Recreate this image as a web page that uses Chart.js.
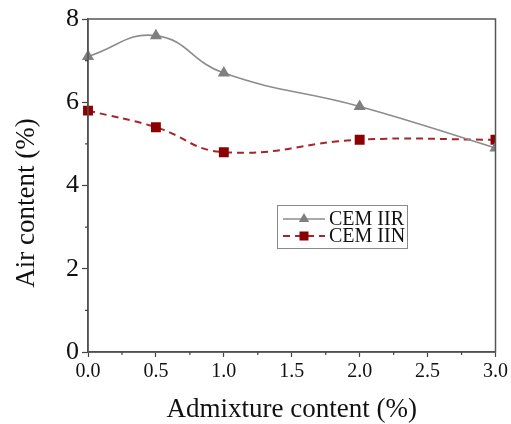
<!DOCTYPE html>
<html>
<head>
<meta charset="utf-8">
<script src="https://cdn.jsdelivr.net/npm/chart.js@4.4.1/dist/chart.umd.min.js"></script>
<style>
  html, body { margin: 0; padding: 0; background: #fff; }
  #wrap { width: 511px; height: 424px; }
</style>
</head>
<body>
<div id="wrap"><canvas id="c" width="511" height="424"></canvas></div>
<script>
// Admixture dosage (%) on the x axis
const admixture = [0.0, 0.5, 1.0, 2.0, 3.0];
// Air content (%) for each cement type
const cemIIR = [7.1, 7.6, 6.7, 5.9, 4.9];
const cemIIN = [5.8, 5.4, 4.8, 5.1, 5.1];
const seriesNames = ['CEM IIR', 'CEM IIN'];
// Axis tick values
const xMajorTicks = [0.0, 0.5, 1.0, 1.5, 2.0, 2.5, 3.0];
const xMinorTicks = [0.25, 0.75, 1.25, 1.75, 2.25, 2.75];
const yMajorTicks = [0, 2, 4, 6, 8];
const yMinorTicks = [1, 3, 5, 7];
const xTitle = 'Admixture content (%)';
const yTitle = 'Air content (%)';

const SERIF = '"Liberation Serif", "DejaVu Serif", serif';

const toPoints = (xs, ys) => xs.map((x, i) => ({ x: x, y: ys[i] }));

// Frame, minor ticks, y title and legend box
const decor = {
  id: 'decor',
  afterDraw(chart) {
    const { ctx, chartArea: a, scales } = chart;
    ctx.save();
    // full frame around the plot
    ctx.strokeStyle = '#555';
    ctx.lineWidth = 1.5;
    ctx.strokeRect(a.left, a.top, a.right - a.left, a.bottom - a.top);
    // minor ticks
    ctx.strokeStyle = '#444';
    ctx.lineWidth = 1.2;
    ctx.beginPath();
    xMinorTicks.forEach(v => {
      const px = scales.x.getPixelForValue(v);
      ctx.moveTo(px, a.bottom); ctx.lineTo(px, a.bottom + 3);
    });
    yMinorTicks.forEach(v => {
      const py = scales.y.getPixelForValue(v);
      ctx.moveTo(a.left, py); ctx.lineTo(a.left - 3, py);
    });
    ctx.stroke();

    // y axis title
    ctx.fillStyle = '#111';
    ctx.font = '27px ' + SERIF;
    ctx.textAlign = 'center';
    ctx.textBaseline = 'middle';
    ctx.translate(27, 203);
    ctx.rotate(-Math.PI / 2);
    ctx.fillText(yTitle, 0, 0);
    ctx.setTransform(1, 0, 0, 1, 0, 0);

    // legend inside the plot
    const bx = 277, by = 205, bw = 130, bh = 43;
    ctx.strokeStyle = '#8a8a8a';
    ctx.lineWidth = 1;
    ctx.strokeRect(bx + 0.5, by + 0.5, bw, bh);
    const rows = [by + 14, by + 31];
    chart.data.datasets.forEach((ds, i) => {
      const y = rows[i];
      const x0 = 283, x1 = 325, xm = (x0 + x1) / 2;
      ctx.strokeStyle = ds.borderColor;
      ctx.lineWidth = ds.borderWidth;
      ctx.setLineDash(ds.borderDash || []);
      ctx.beginPath();
      ctx.moveTo(x0, y); ctx.lineTo(x1, y);
      ctx.stroke();
      ctx.setLineDash([]);
      ctx.fillStyle = ds.pointBackgroundColor;
      if (ds.pointStyle === 'triangle') {
        const r = 6;
        ctx.beginPath();
        ctx.moveTo(xm, y - r);
        ctx.lineTo(xm + r * 0.866, y + r * 0.5);
        ctx.lineTo(xm - r * 0.866, y + r * 0.5);
        ctx.closePath();
        ctx.fill();
      } else {
        ctx.fillRect(xm - 4.5, y - 4.5, 9, 9);
      }
      ctx.fillStyle = '#111';
      ctx.font = '20px ' + SERIF;
      ctx.textAlign = 'left';
      ctx.textBaseline = 'middle';
      ctx.fillText(ds.label, 329, y + 1);
    });
    ctx.restore();
  }
};

new Chart(document.getElementById('c'), {
  type: 'line',
  data: {
    datasets: [
      {
        label: seriesNames[0],
        data: toPoints(admixture, cemIIR),
        borderColor: '#8c8c8c',
        borderWidth: 1.6,
        pointStyle: 'triangle',
        pointRadius: 7,
        pointBackgroundColor: '#7f7f7f',
        pointBorderColor: '#7f7f7f',
        pointBorderWidth: 0,
        tension: 0.45,
        clip: { left: 12, top: 12, right: 0, bottom: 12 }
      },
      {
        label: seriesNames[1],
        data: toPoints(admixture, cemIIN),
        borderColor: '#a3262a',
        borderWidth: 2,
        borderDash: [7, 5],
        pointStyle: 'rect',
        pointRadius: 7,
        pointBackgroundColor: '#8b0000',
        pointBorderColor: '#8b0000',
        pointBorderWidth: 0,
        tension: 0.45,
        clip: { left: 12, top: 12, right: 0, bottom: 12 }
      }
    ]
  },
  options: {
    responsive: false,
    animation: false,
    layout: { padding: { top: 19, right: 14, left: 0, bottom: 0 } },
    plugins: { legend: { display: false }, tooltip: { enabled: false } },
    scales: {
      x: {
        type: 'linear',
        min: 0,
        max: 3,
        afterBuildTicks(scale) { scale.ticks = xMajorTicks.map(v => ({ value: v })); },
        afterFit(scale) { scale.height = 72; },
        ticks: {
          color: '#111',
          font: { family: SERIF, size: 20 },
          padding: 3,
          maxRotation: 0,
          callback: v => Number(v).toFixed(1)
        },
        grid: { drawOnChartArea: false, tickLength: 5, tickColor: '#444', tickWidth: 1.2 },
        border: { display: true, color: '#444', width: 1.5 },
        title: {
          display: true,
          text: xTitle,
          color: '#111',
          font: { family: SERIF, size: 27, lineHeight: 1.05 },
          padding: { top: 0, bottom: 0 }
        }
      },
      y: {
        type: 'linear',
        min: 0,
        max: 8,
        afterBuildTicks(scale) { scale.ticks = yMajorTicks.map(v => ({ value: v })); },
        afterFit(scale) { scale.width = 88; },
        ticks: {
          color: '#111',
          font: { family: SERIF, size: 26 },
          padding: 3,
          callback: v => String(v)
        },
        grid: { drawOnChartArea: false, tickLength: 6, tickColor: '#444', tickWidth: 1.2 },
        border: { display: true, color: '#444', width: 1.5 }
      }
    }
  },
  plugins: [decor]
});
</script>
</body>
</html>
